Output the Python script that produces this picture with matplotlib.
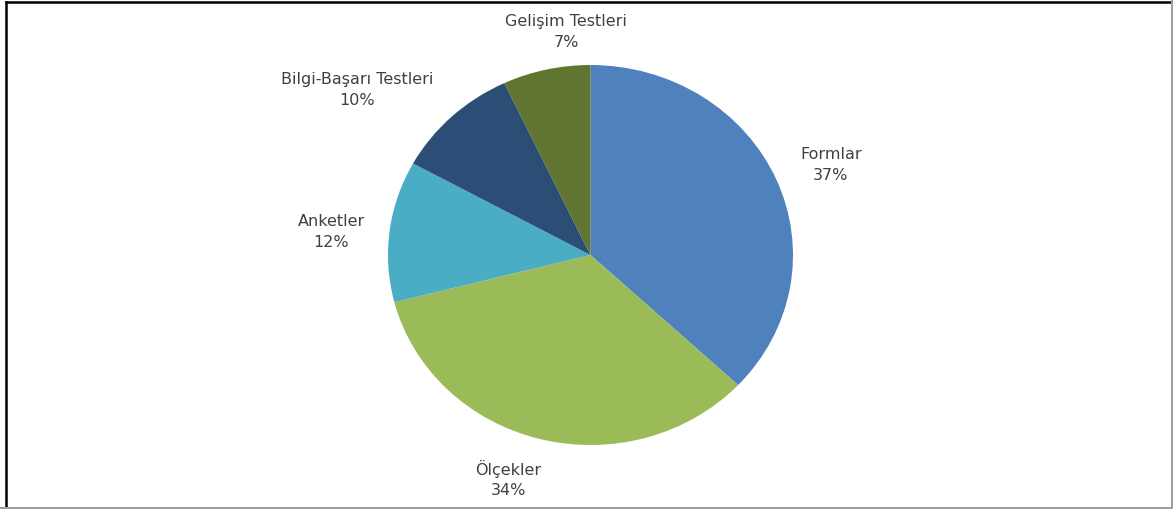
import matplotlib
matplotlib.use("Agg")
import matplotlib.pyplot as plt
from matplotlib.lines import Line2D

W, H = 1173, 509

categories = ["Formlar", "Ölçekler", "Anketler", "Bilgi-Başarı Testleri", "Gelişim Testleri"]
values = [37, 34, 12, 10, 7]
colors = ["#4F81BD", "#9BBB59", "#4BACC6", "#2C4D75", "#5F7530"]

# label centres in pixels
label_pos = [(831, 165), (508, 479), (331, 232), (357, 90), (566, 32)]


def px(x, y):
    return x / W, 1 - y / H


def main():
    fig = plt.figure(figsize=(W / 100, H / 100), dpi=100)
    fig.patch.set_facecolor("white")

    # pie occupies an ellipse of ~405 x 380 px
    left, top, right, bottom = 388, 65, 793, 445
    ax = fig.add_axes([left / W, 1 - bottom / H, (right - left) / W, (bottom - top) / H])
    ax.pie(values, colors=colors, startangle=90, counterclock=False,
           wedgeprops=dict(linewidth=0))
    ax.set_aspect("auto")
    ax.set_xlim(-1, 1)
    ax.set_ylim(-1, 1)
    ax.axis("off")

    for name, val, (x, y) in zip(categories, values, label_pos):
        fx, fy = px(x, y)
        fig.text(fx, fy, f"{name}\n{val}%", ha="center", va="center",
                 fontsize=11.5, color="#404040", linespacing=1.45,
                 family="DejaVu Sans")

    # frame around the picture
    fig.add_artist(Line2D([6 / W, 6 / W], [0, 1 - 2 / H], color="black", lw=1.8))
    fig.add_artist(Line2D([6 / W, 1], [1 - 2 / H, 1 - 2 / H], color="black", lw=1.8))
    fig.add_artist(Line2D([1171.5 / W, 1171.5 / W], [0, 1], color="#a0a0a0", lw=1.5))
    fig.add_artist(Line2D([0, 1], [1.5 / H, 1.5 / H], color="#a0a0a0", lw=1.5))

    fig.savefig("out.png", dpi=100, facecolor="white")


if __name__ == "__main__":
    main()
